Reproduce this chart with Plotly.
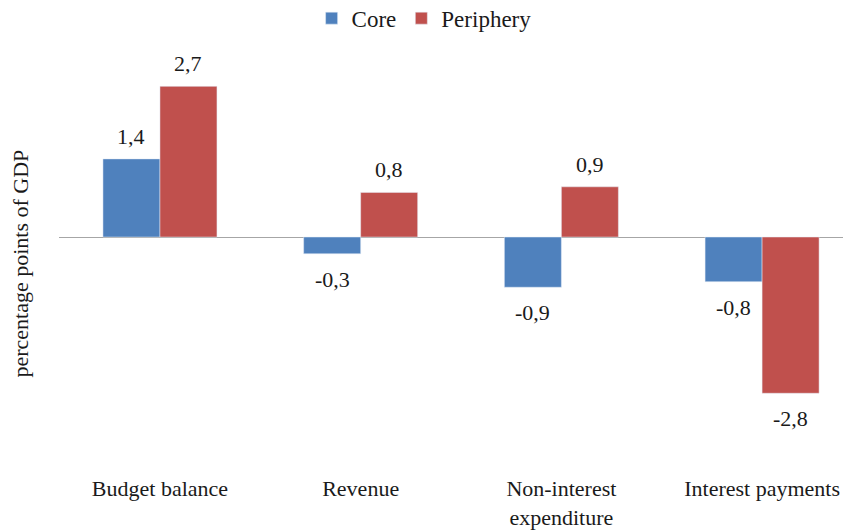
import plotly.graph_objects as go

categories = ["Budget balance", "Revenue", "Non-interest<br>expenditure", "Interest payments"]
core = [1.4, -0.3, -0.9, -0.8]
periphery = [2.7, 0.8, 0.9, -2.8]


def fmt(v):
    # comma as decimal separator, as in the source
    return f"{v:.1f}".replace(".", ",")


font_family = "Liberation Serif, Times New Roman, serif"
# page body has an 8px margin, so the figure is 8px smaller than the window
W, H = 843, 524
bargap = 0.432

fig = go.Figure()
fig.add_trace(go.Bar(x=categories, y=core, name="Core", marker=dict(color="#4F81BD")))
fig.add_trace(go.Bar(x=categories, y=periphery, name="Periphery", marker=dict(color="#C0504D")))

# value labels, set a bit further from the bars than plotly's own outside text
half_bar = 200.7 * (1 - bargap) / 4
for vals, side in [(core, -1), (periphery, 1)]:
    for cat, v in zip(categories, vals):
        fig.add_annotation(
            x=cat, y=v, text=fmt(v), showarrow=False,
            xshift=side * half_bar,
            yanchor="bottom" if v >= 0 else "top",
            yshift=8 if v >= 0 else -11,
            font=dict(size=22, color="#1a1a1a"),
        )

fig.add_annotation(
    text="percentage points of GDP", textangle=-90, showarrow=False,
    xref="paper", yref="paper", x=-0.048, y=0.487,
    xanchor="center", yanchor="middle",
    font=dict(size=22, color="#1a1a1a"),
)

fig.update_layout(
    width=W, height=H,
    margin=dict(l=51, r=0, t=35, b=59, autoexpand=False),
    plot_bgcolor="white", paper_bgcolor="rgba(0,0,0,0)",
    font=dict(family=font_family, size=22, color="#1a1a1a"),
    barmode="group", bargap=bargap, bargroupgap=0,
    legend=dict(orientation="h", x=0.461, xanchor="center",
                y=1.0577, yanchor="middle", bgcolor="rgba(0,0,0,0)",
                font=dict(size=23), itemwidth=30, traceorder="normal"),
    xaxis=dict(range=[-0.503, 3.443], showline=False, showgrid=False, ticks="",
               tickfont=dict(size=22), automargin=False),
    yaxis=dict(range=[-4.229, 3.477], showgrid=False, showticklabels=False, ticks="",
               zeroline=True, zerolinecolor="#A6A6A6", zerolinewidth=1.2,
               automargin=False),
    showlegend=True,
)

fig.write_html("out.html")
